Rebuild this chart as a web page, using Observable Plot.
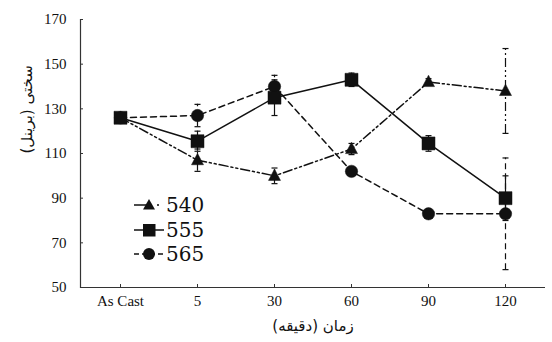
<!DOCTYPE html>
<html>
<head>
<meta charset="utf-8">
<script src="https://cdn.jsdelivr.net/npm/d3@7"></script>
<script src="https://cdn.jsdelivr.net/npm/@observablehq/plot@0.6"></script>
<style>
  body { margin: 0; background: #fff; }
  #wrap { position: relative; width: 552px; height: 342px; }
  #legend { position: absolute; left: 133px; top: 193px; font-family: "DejaVu Serif", serif; font-size: 20px; color: #111; }
  #legend .row { display: flex; align-items: center; height: 24.5px; }
  #legend svg { display: block; margin-right: 1px; }
</style>
</head>
<body>
<div id="wrap"></div>
<script>
const categories = ["As Cast", "5", "30", "60", "90", "120"];
const yTicks = [50, 70, 90, 110, 130, 150, 170];
const seriesNames = ["540", "555", "565"];
const s540 = [126, 107, 100, 112, 142, 138];
const e540 = [0, 5, 3.5, 2.5, 1.5, 19];
const s555 = [126, 115.5, 135, 143, 114.5, 90];
const e555 = [0, 4.5, 8, 3, 3.5, 10];
const s565 = [126, 127, 140, 102, 83, 83];
const e565 = [0, 5, 5, 2, 0, 25];
const yLabel = "سختی (برینل)";
const xLabel = "زمان (دقیقه)";

const rows = (vals, errs) => categories.map((c, i) => ({cat: c, v: vals[i], e: errs[i]}));
const d540 = rows(s540, e540);
const d555 = rows(s555, e555);
const d565 = rows(s565, e565);

const dash540 = "9,3,2,3,2,3";
const dash565 = "6,4";

const cap = {draw(ctx, size) { const w = Math.sqrt(size); ctx.moveTo(-w / 2, 0); ctx.lineTo(w / 2, 0); }};
const sq = {draw(ctx, size) { const w = Math.sqrt(size); ctx.rect(-w / 2, -w / 2, w, w); }};
const tri = {draw(ctx, size) { const w = Math.sqrt(size); const h = w * 0.95; ctx.moveTo(0, -h * 0.6); ctx.lineTo(w / 2, h * 0.4); ctx.lineTo(-w / 2, h * 0.4); ctx.closePath(); }};
const circ = d3.symbolCircle;
const rFor = (px) => px / Math.sqrt(Math.PI);

function errMarks(data, dash) {
  const eb = data.filter(d => d.e > 0);
  return [
    Plot.ruleX(eb, {x: "cat", y1: d => d.v - d.e, y2: d => d.v + d.e, stroke: "#111", strokeWidth: 1.2, strokeDasharray: dash}),
    Plot.dot(eb, {x: "cat", y: d => d.v + d.e, symbol: cap, r: rFor(6), stroke: "#111", strokeWidth: 1.2, fill: "none"}),
    Plot.dot(eb, {x: "cat", y: d => d.v - d.e, symbol: cap, r: rFor(6), stroke: "#111", strokeWidth: 1.2, fill: "none"})
  ];
}

const chart = Plot.plot({
  width: 552,
  height: 342,
  marginTop: 19,
  marginBottom: 55,
  marginLeft: 80,
  marginRight: 7,
  style: {fontFamily: "'Liberation Serif', serif", fontSize: "15px", color: "#111", background: "#fff"},
  x: {type: "point", domain: categories, padding: 0.5},
  y: {domain: [50, 170]},
  marks: [
    Plot.axisY({ticks: yTicks, tickSize: -3, tickPadding: 17, label: null, fontSize: 15, stroke: "#333"}),
    Plot.axisX({tickSize: -3, tickPadding: 11, label: null, fontSize: 15, stroke: "#333"}),
    Plot.frame({anchor: "left", stroke: "#333", strokeWidth: 1.2}),
    Plot.ruleY([50], {stroke: "#333", strokeWidth: 1.2}),
    Plot.text([yLabel], {text: d => "\u200F" + d + "\u200F", frameAnchor: "left", dx: -53, rotate: -90, fontSize: 15, fontFamily: "DejaVu Sans", fill: "#111"}),
    Plot.text([xLabel], {text: d => "\u200F" + d + "\u200F", frameAnchor: "bottom", dy: 43, fontSize: 15, fontFamily: "DejaVu Sans", fill: "#111"}),
    ...errMarks(d565, dash565),
    ...errMarks(d540, dash540),
    ...errMarks(d555, null),
    Plot.line(d565, {x: "cat", y: "v", stroke: "#111", strokeWidth: 1.5, strokeDasharray: dash565}),
    Plot.line(d540, {x: "cat", y: "v", stroke: "#111", strokeWidth: 1.5, strokeDasharray: dash540}),
    Plot.line(d555, {x: "cat", y: "v", stroke: "#111", strokeWidth: 1.5}),
    Plot.dot(d565, {x: "cat", y: "v", symbol: circ, r: 6.2, fill: "#111", stroke: "#111", strokeWidth: 0.5}),
    Plot.dot(d540, {x: "cat", y: "v", symbol: tri, r: rFor(12), fill: "#111", stroke: "#111", strokeWidth: 0.5}),
    Plot.dot(d555, {x: "cat", y: "v", symbol: sq, r: rFor(13), fill: "#111", stroke: "#111", strokeWidth: 0.5})
  ]
});

const wrap = document.getElementById("wrap");
wrap.appendChild(chart);

// legend overlay
const legend = document.createElement("div");
legend.id = "legend";
const legendSpec = [
  {name: seriesNames[0], shape: "tri"},
  {name: seriesNames[1], shape: "sq"},
  {name: seriesNames[2], shape: "circ"}
];
const ns = "http://www.w3.org/2000/svg";
for (const s of legendSpec) {
  const row = document.createElement("div");
  row.className = "row";
  const svg = document.createElementNS(ns, "svg");
  svg.setAttribute("width", 32); svg.setAttribute("height", 20);
  const line = document.createElementNS(ns, "line");
  line.setAttribute("x1", 1); line.setAttribute("x2", 31); line.setAttribute("y1", 10); line.setAttribute("y2", 10);
  line.setAttribute("stroke", "#111"); line.setAttribute("stroke-width", 1.5);
  if (s.shape === "tri") line.setAttribute("stroke-dasharray", "14,9,2,20");
  if (s.shape === "circ") line.setAttribute("stroke-dasharray", "5,3");
  svg.appendChild(line);
  let m;
  if (s.shape === "tri") { m = document.createElementNS(ns, "path"); m.setAttribute("d", "M16,4 L22,14.5 L10,14.5 Z"); }
  else if (s.shape === "sq") { m = document.createElementNS(ns, "rect"); m.setAttribute("x", 10); m.setAttribute("y", 4); m.setAttribute("width", 12.5); m.setAttribute("height", 12.5); }
  else { m = document.createElementNS(ns, "circle"); m.setAttribute("cx", 16); m.setAttribute("cy", 10); m.setAttribute("r", 6); }
  m.setAttribute("fill", "#111");
  svg.appendChild(m);
  row.appendChild(svg);
  const t = document.createElement("span");
  t.textContent = s.name;
  row.appendChild(t);
  legend.appendChild(row);
}
wrap.appendChild(legend);
</script>
</body>
</html>
